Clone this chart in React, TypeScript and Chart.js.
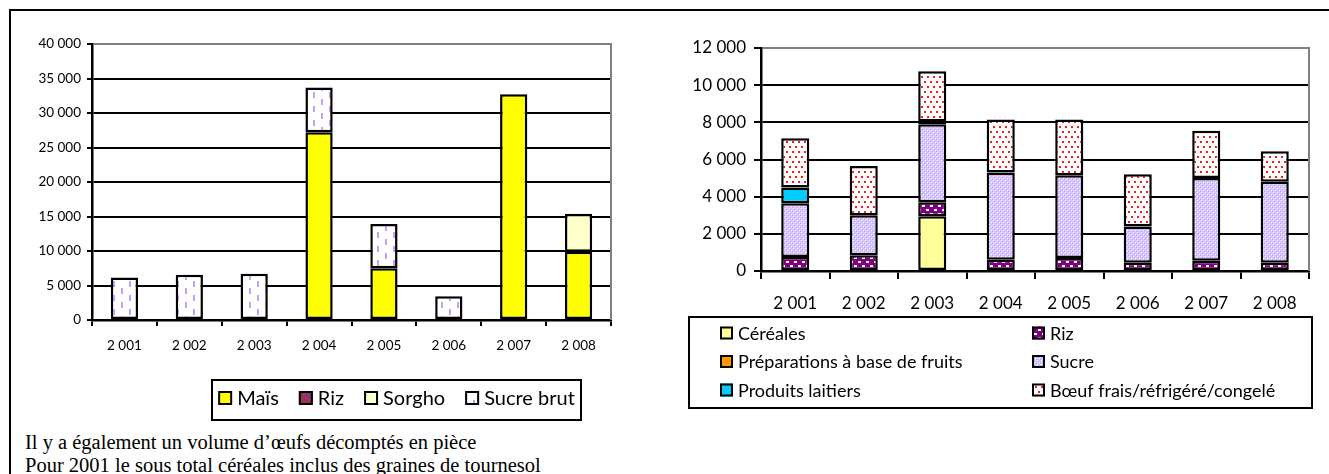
import { useEffect, useRef } from "react";
import { Chart, registerables } from "chart.js";

Chart.register(...registerables);

// Years shown on both category axes
const years = [2001, 2002, 2003, 2004, 2005, 2006, 2007, 2008];

// Left panel: volumes by product (tonnes)
const maisVolumes = [null, null, null, 27200, 7500, null, 32700, 9900];
const rizVolumes = [null, 150, 150, null, null, 150, null, null];
const sorghoVolumes = [null, null, null, null, null, null, null, 5500];
const sucreBrutVolumes = [6150, 6400, 6550, 6500, 6400, 3300, null, null];
const leftAxisMax = 40000;
const leftAxisStep = 5000;

// Right panel: volumes by product group (tonnes)
const cerealesVolumes = [null, null, 2950, null, null, null, null, null];
const rizGroupVolumes = [750, 850, 750, 600, 700, 450, 550, 450];
const preparationsFruitsVolumes = [null, null, null, null, null, null, null, null];
const sucreVolumes = [2900, 2150, 4200, 4700, 4450, 1950, 4450, 4350];
const produitsLaitiersVolumes = [850, null, 150, null, null, null, null, null];
const boeufVolumes = [2650, 2650, 2700, 2850, 3000, 2800, 2550, 1650];
const rightAxisMax = 12000;
const rightAxisStep = 2000;

const FONT = "Lato";

// "40 000" style thousands separator
const spaced = (v: number | string) =>
  String(v).replace(/\B(?=(\d{3})+(?!\d))/g, " ");

function makePattern(w: number, h: number, paint: (c: CanvasRenderingContext2D) => void) {
  const tile = document.createElement("canvas");
  tile.width = w;
  tile.height = h;
  const c = tile.getContext("2d")!;
  paint(c);
  return c.createPattern(tile, "repeat")!;
}

function buildPatterns() {
  const dashedLavender = makePattern(16, 14, (c) => {
    c.fillStyle = "#ffffff";
    c.fillRect(0, 0, 16, 14);
    c.fillStyle = "#c99cff";
    c.fillRect(2, 0, 2, 6);
    c.fillRect(10, 7, 2, 6);
  });
  const hatchLavender = makePattern(4, 4, (c) => {
    c.fillStyle = "#d6c4ff";
    c.fillRect(0, 0, 4, 4);
    c.fillStyle = "#ffffff";
    c.fillRect(0, 0, 1, 1);
    c.fillRect(2, 2, 1, 1);
    c.fillStyle = "#bda3ff";
    c.fillRect(1, 1, 1, 1);
    c.fillRect(3, 3, 1, 1);
  });
  const purpleDashes = makePattern(8, 8, (c) => {
    c.fillStyle = "#800080";
    c.fillRect(0, 0, 8, 8);
    c.fillStyle = "#ffffff";
    c.fillRect(1, 1, 3, 2);
    c.fillRect(5, 5, 3, 2);
  });
  const redDots = makePattern(6, 10, (c) => {
    c.fillStyle = "#ffffff";
    c.fillRect(0, 0, 6, 10);
    c.fillStyle = "#ff1a1a";
    c.fillRect(1, 1, 2, 2);
    c.fillRect(4, 6, 2, 2);
  });
  return { dashedLavender, hatchLavender, purpleDashes, redDots };
}

function drawMarker(ctx: CanvasRenderingContext2D, fill: any, x: number, y: number, size: number) {
  ctx.fillStyle = fill;
  ctx.fillRect(x, y, size, size);
  ctx.lineWidth = 2;
  ctx.strokeStyle = "#000";
  ctx.strokeRect(x + 1, y + 1, size - 2, size - 2);
}

// Gray frame edge on the right side of the plot area
const plotFrame = {
  id: "plotFrame",
  afterDraw(chart: any) {
    const { ctx, chartArea } = chart;
    ctx.save();
    ctx.strokeStyle = "#808080";
    ctx.lineWidth = 2;
    ctx.beginPath();
    ctx.moveTo(chartArea.right, chartArea.top - 1);
    ctx.lineTo(chartArea.right, chartArea.bottom);
    ctx.stroke();
    ctx.restore();
  },
};

// Single-row boxed legend
const rowLegend = {
  id: "rowLegend",
  afterDraw(chart: any, _args: any, opts: any) {
    const { ctx } = chart;
    const sets = chart.data.datasets;
    ctx.save();
    ctx.font = `${opts.fontSize}px ${FONT}`;
    const marker = 14;
    const gap = 5;
    const spacing = 20;
    const widths = sets.map((d: any) => marker + gap + ctx.measureText(d.label).width);
    const total = widths.reduce((a: number, b: number) => a + b, 0) + spacing * (sets.length - 1);
    const [bx, by, bw, bh] = opts.box;
    ctx.lineWidth = 2;
    ctx.strokeStyle = "#000";
    ctx.strokeRect(bx, by, bw, bh);
    let x = bx + (bw - total) / 2;
    const baseline = opts.baseline;
    sets.forEach((d: any, i: number) => {
      drawMarker(ctx, d.backgroundColor, x, baseline - marker, marker);
      ctx.fillStyle = "#000";
      ctx.textBaseline = "alphabetic";
      ctx.fillText(d.label, x + marker + gap, baseline);
      x += widths[i] + spacing;
    });
    ctx.restore();
  },
};

// Two-column boxed legend, filled row by row
const gridLegend = {
  id: "gridLegend",
  afterDraw(chart: any, _args: any, opts: any) {
    const { ctx } = chart;
    const sets = chart.data.datasets;
    ctx.save();
    ctx.font = `${opts.fontSize}px ${FONT}`;
    const [bx, by, bw, bh] = opts.box;
    ctx.lineWidth = 2;
    ctx.strokeStyle = "#000";
    ctx.strokeRect(bx, by, bw, bh);
    const marker = 13;
    sets.forEach((d: any, i: number) => {
      const col = i % 2;
      const row = Math.floor(i / 2);
      const x = opts.columns[col];
      const baseline = opts.firstBaseline + row * opts.rowGap;
      drawMarker(ctx, d.backgroundColor, x, baseline - marker, marker);
      ctx.fillStyle = "#000";
      ctx.textBaseline = "alphabetic";
      ctx.fillText(d.label, x + marker + 5, baseline);
    });
    ctx.restore();
  },
};

function axes(max: number, step: number, tickSize: number, yWidth: number, yTick: number, yPad: number, xTick: number, xPad: number) {
  return {
    x: {
      stacked: true,
      grid: {
        drawOnChartArea: false,
        drawTicks: true,
        tickLength: xTick,
        color: "#000",
        lineWidth: 2,
        offset: true,
      },
      border: { color: "#000", width: 2.5 },
      ticks: {
        color: "#000",
        font: { family: FONT, size: tickSize },
        padding: xPad,
        maxRotation: 0,
        callback: (_v: any, i: number) => spaced(years[i]),
      },
      afterFit: (s: any) => {
        s.height = 40;
      },
    },
    y: {
      stacked: true,
      min: 0,
      max,
      grid: {
        color: (c: any) => (c.tick && c.tick.value === max ? "#808080" : "#000"),
        tickColor: "#000",
        lineWidth: 2,
        tickLength: yTick,
      },
      border: { color: "#000", width: 2.5 },
      ticks: {
        stepSize: step,
        color: "#000",
        font: { family: FONT, size: tickSize },
        padding: yPad,
        callback: (v: any) => spaced(v),
      },
      afterFit: (s: any) => {
        s.width = yWidth;
      },
    },
  };
}

function barSet(label: string, data: (number | null)[], fill: any, pct: number) {
  return {
    label,
    data,
    backgroundColor: fill,
    borderColor: "#000",
    borderWidth: 2.5,
    borderSkipped: false,
    barPercentage: pct,
    categoryPercentage: 1,
  };
}

export default function App() {
  const leftRef = useRef<HTMLCanvasElement>(null);
  const rightRef = useRef<HTMLCanvasElement>(null);

  useEffect(() => {
    const p = buildPatterns();

    const left = new Chart(leftRef.current!, {
      type: "bar",
      data: {
        labels: years.map(String),
        datasets: [
          barSet("Maïs", maisVolumes, "#ffff00", 0.42),
          barSet("Riz", rizVolumes, "#993366", 0.42),
          barSet("Sorgho", sorghoVolumes, "#ffffcc", 0.42),
          barSet("Sucre brut", sucreBrutVolumes, p.dashedLavender, 0.42),
        ],
      },
      options: {
        responsive: false,
        animation: false,
        events: [],
        layout: { padding: { top: 29, right: 14, bottom: 70, left: 0 } },
        scales: axes(leftAxisMax, leftAxisStep, 13.5, 77, 5, 6, 6, 12) as any,
        plugins: {
          legend: { display: false },
          tooltip: { enabled: false },
          rowLegend: { box: [197, 365, 369, 40], baseline: 390, fontSize: 20 },
        } as any,
      },
      plugins: [plotFrame, rowLegend],
    });

    const right = new Chart(rightRef.current!, {
      type: "bar",
      data: {
        labels: years.map(String),
        datasets: [
          barSet("Céréales", cerealesVolumes, "#ffff99", 0.41),
          barSet("Riz", rizGroupVolumes, p.purpleDashes, 0.41),
          barSet("Préparations à base de fruits", preparationsFruitsVolumes, "#ff9900", 0.41),
          barSet("Sucre", sucreVolumes, p.hatchLavender, 0.41),
          barSet("Produits laitiers", produitsLaitiersVolumes, "#00ccff", 0.41),
          barSet("Bœuf frais/réfrigéré/congelé", boeufVolumes, p.redDots, 0.41),
        ],
      },
      options: {
        responsive: false,
        animation: false,
        events: [],
        layout: { padding: { top: 28, right: 16, bottom: 109, left: 0 } },
        scales: axes(rightAxisMax, rightAxisStep, 17, 96, 7, 8, 8, 14) as any,
        plugins: {
          legend: { display: false },
          tooltip: { enabled: false },
          gridLegend: {
            box: [24, 297, 623, 91],
            columns: [55, 367],
            firstBaseline: 319.5,
            rowGap: 28.5,
            fontSize: 18,
          },
        } as any,
      },
      plugins: [plotFrame, gridLegend],
    });

    return () => {
      left.destroy();
      right.destroy();
    };
  }, []);

  return (
    <div
      style={{
        position: "absolute",
        left: 0,
        top: 0,
        width: 1329,
        height: 474,
        overflow: "hidden",
        background: "#fff",
      }}
    >
      <div
        style={{
          position: "absolute",
          left: 9,
          top: 9,
          width: 1400,
          height: 500,
          borderTop: "2px solid #000",
          borderLeft: "2px solid #000",
        }}
      />
      <canvas
        ref={leftRef}
        width={610}
        height={415}
        style={{ position: "absolute", left: 15, top: 15 }}
      />
      <canvas
        ref={rightRef}
        width={660}
        height={400}
        style={{ position: "absolute", left: 665, top: 20 }}
      />
      <div
        style={{
          position: "absolute",
          left: 25,
          top: 431,
          fontFamily: "'Liberation Serif', serif",
          fontSize: 20.5,
          lineHeight: "23px",
          color: "#000",
          whiteSpace: "nowrap",
        }}
      >
        <div>Il y a également un volume d’œufs décomptés en pièce</div>
        <div>Pour 2001 le sous total céréales inclus des graines de tournesol</div>
      </div>
    </div>
  );
}
